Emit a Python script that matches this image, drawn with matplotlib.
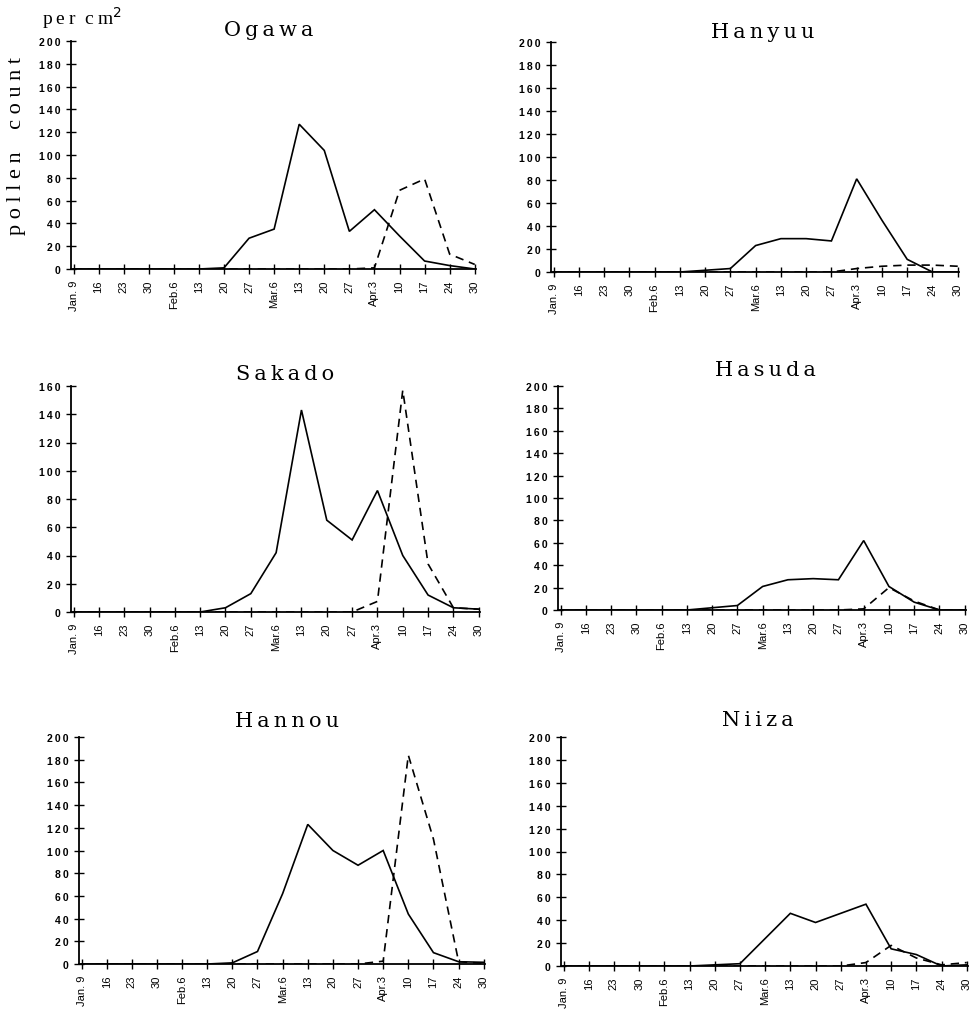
import matplotlib
matplotlib.use("Agg")
import matplotlib.pyplot as plt
from matplotlib.ticker import FuncFormatter

# Weekly sampling dates (category axis)
dates = ["Jan. 9", "16", "23", "30", "Feb.6", "13", "20", "27",
         "Mar.6", "13", "20", "27", "Apr.3", "10", "17", "24", "30"]

# Pollen counts per cm2: solid = cedar, dashed = cypress
ogawa_cedar = [0, 0, 0, 0, 0, 0, 1, 27, 35, 127, 104, 33, 52, 29, 7, 3, 0]
ogawa_cypress = [0, 0, 0, 0, 0, 0, 0, 0, 0, 0, 0, 0, 1, 69, 79, 13, 4]

hanyuu_cedar = [0, 0, 0, 0, 0, 0, 1.5, 3, 23, 29, 29, 27, 81, 45, 11, 0, 0]
hanyuu_cypress = [0, 0, 0, 0, 0, 0, 0, 0, 0, 0, 0, 0, 3, 5, 6, 6, 5]

sakado_cedar = [0, 0, 0, 0, 0, 0, 3, 13, 42, 143, 65, 51, 86, 40, 12, 3, 2]
sakado_cypress = [0, 0, 0, 0, 0, 0, 0, 0, 0, 0, 0, 0, 7.5, 157, 34, 3, 2]

hasuda_cedar = [0, 0, 0, 0, 0, 0, 2, 4, 21, 27, 28, 27, 62, 21, 7, 0, 0]
hasuda_cypress = [0, 0, 0, 0, 0, 0, 0, 0, 0, 0, 0, 0, 1, 20, 8, 0, 0]

hannou_cedar = [0, 0, 0, 0, 0, 0, 1, 11, 62, 123, 100, 87, 100, 44, 10, 2, 1.5]
hannou_cypress = [0, 0, 0, 0, 0, 0, 0, 0, 0, 0, 0, 0, 2.5, 184, 110, 2, 0.5]

niiza_cedar = [0, 0, 0, 0, 0, 0, 1, 2, 24, 46, 38, 46, 54, 15, 10, 0, 1]
niiza_cypress = [0, 0, 0, 0, 0, 0, 0, 0, 0, 0, 0, 0, 3, 18, 7, 1, 3]

W, H = 975, 1012
fig = plt.figure(figsize=(W / 100, H / 100), dpi=100)

SP = "\u2009"


def spaced(s, sep=SP):
    return sep.join(s)


def panel(rect_px, title, title_xy, cedar, cypress, ymax):
    x0, x1, ytop, ybot = rect_px
    ax = fig.add_axes([x0 / W, 1 - ybot / H, (x1 - x0) / W, (ybot - ytop) / H])
    xs = list(range(len(dates)))
    ax.plot(xs, cedar, color="black", lw=1.2, solid_joinstyle="miter")
    ax.plot(xs, cypress, color="black", lw=1.2, linestyle=(0, (5, 3.5)))
    ax.set_xlim(-0.1, len(dates) - 1 + 0.05)
    ax.set_ylim(0, ymax)
    ax.set_yticks(range(0, ymax + 1, 20))
    ax.yaxis.set_major_formatter(FuncFormatter(lambda v, p: spaced(str(int(v)))))
    ax.set_xticks(xs)
    ax.set_xticklabels(dates, rotation=90, family="Liberation Sans",
                       fontsize=8)
    for lab in ax.get_yticklabels():
        lab.set_family("Liberation Sans")
        lab.set_fontsize(7.5)
        lab.set_weight("bold")
    ax.tick_params(direction="inout", length=7, width=1.0, color="black", pad=4)
    for s in ("top", "right"):
        ax.spines[s].set_visible(False)
    for s in ("left", "bottom"):
        ax.spines[s].set_linewidth(1.3)
    ax.patch.set_alpha(0)
    fig.text(title_xy[0] / W, 1 - title_xy[1] / H, spaced(title),
             ha="center", va="center", family="DejaVu Serif", fontsize=15)
    return ax


panel((71, 476, 42, 270), "Ogawa", (269, 31), ogawa_cedar, ogawa_cypress, 200)
panel((551, 959, 43, 273), "Hanyuu", (763, 32), hanyuu_cedar, hanyuu_cypress, 200)
panel((71, 480, 387, 613), "Sakado", (285, 375), sakado_cedar, sakado_cypress, 160)
panel((558, 966, 387, 611), "Hasuda", (765, 370), hasuda_cedar, hasuda_cypress, 200)
panel((79, 485, 738, 965), "Hannou", (287, 722), hannou_cedar, hannou_cypress, 200)
panel((561, 968, 738, 967), "Niiza", (758, 720), niiza_cedar, niiza_cypress, 200)

# Units and axis caption
fig.text(42 / W, 1 - 25 / H, spaced("per") + "  " + spaced("cm") + "$^{2}$",
         ha="left", va="baseline", family="Liberation Serif", fontsize=14)
fig.text(17 / W, 1 - 146 / H, "    ".join([spaced("pollen", " "), spaced("count", " ")]),
         rotation=90, ha="center", va="center", family="Liberation Serif", fontsize=16)

fig.savefig("out.png", dpi=100)
